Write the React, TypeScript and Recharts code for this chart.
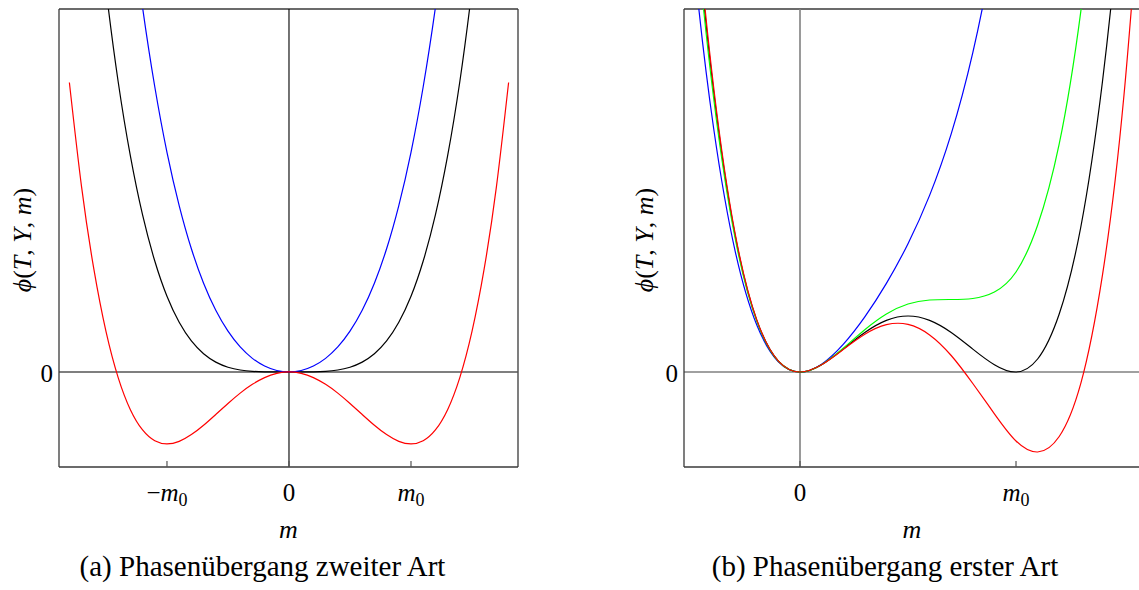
import React from 'react';
import { LineChart, Line, XAxis, YAxis, ReferenceLine } from 'recharts';

const FONT = "'Liberation Serif', 'DejaVu Serif', serif";

// ---------- (a) second-order transition ----------
const mLeft = [
  -1.8, -1.7, -1.6, -1.5, -1.4, -1.3, -1.2, -1.1, -1.0, -0.9, -0.8, -0.7, -0.6, -0.5, -0.4, -0.3, -0.2, -0.1,
  0, 0.1, 0.2, 0.3, 0.4, 0.5, 0.6, 0.7, 0.8, 0.9, 1.0, 1.1, 1.2, 1.3, 1.4, 1.5, 1.6, 1.7, 1.8,
];
const blackLeft = [
  11.02, 8.77, 6.88, 5.32, 4.03, 3.0, 2.18, 1.54, 1.05, 0.689, 0.43, 0.252, 0.136, 0.0656, 0.0269, 0.0085, 0.0017, 0.0001,
  0, 0.0001, 0.0017, 0.0085, 0.0269, 0.0656, 0.136, 0.252, 0.43, 0.689, 1.05, 1.54, 2.18, 3.0, 4.03, 5.32, 6.88, 8.77, 11.02,
];
const blueLeft = [
  17.5, 14.55, 12.0, 9.82, 7.95, 6.38, 5.06, 3.96, 3.05, 2.31, 1.71, 1.232, 0.856, 0.566, 0.347, 0.1885, 0.0817, 0.0201,
  0, 0.0201, 0.0817, 0.1885, 0.347, 0.566, 0.856, 1.232, 1.71, 2.31, 3.05, 3.96, 5.06, 6.38, 7.95, 9.82, 12.0, 14.55, 17.5,
];
const redLeft = [
  4.02, 2.57, 1.434, 0.5625, -0.0784, -0.524, -0.806, -0.956, -1.0, -0.964, -0.87, -0.74, -0.59, -0.4375, -0.294, -0.172, -0.0784, -0.0199,
  0, -0.0199, -0.0784, -0.172, -0.294, -0.4375, -0.59, -0.74, -0.87, -0.964, -1.0, -0.956, -0.806, -0.524, -0.0784, 0.5625, 1.434, 2.57, 4.02,
];
const xTicksLeft = [-1, 0, 1];
const xTickLabelsLeft = ['−m_0', '0', 'm_0'];

// ---------- (b) first-order transition ----------
const mRight = [
  -0.6, -0.5, -0.4, -0.3, -0.2, -0.1, 0, 0.1, 0.2, 0.3, 0.4, 0.5, 0.6, 0.7, 0.8, 0.9, 1.0, 1.1, 1.2, 1.3, 1.4, 1.5, 1.6,
];
const blueRight = [
  7.01, 4.317, 2.44, 1.207, 0.47, 0.1026, 0, 0.0784, 0.276, 0.551, 0.886, 1.283, 1.766, 2.381, 3.193, 4.292, 5.79, 7.81, 10.52, 14.08, 18.69, 24.57, 31.97,
];
const blackRight = [
  8.26, 5.04, 2.81, 1.363, 0.516, 0.108, 0, 0.0726, 0.229, 0.395, 0.516, 0.56, 0.516, 0.395, 0.229, 0.0726, 0, 0.13, 0.58, 1.45, 2.9, 5.1, 8.3,
];
const greenRight = [
  8.04, 4.91, 2.744, 1.335, 0.508, 0.1075, 0, 0.0735, 0.2375, 0.423, 0.58, 0.68, 0.72, 0.725, 0.735, 0.8, 1.0, 1.468, 2.281, 3.607, 5.61, 8.49, 12.44,
];
const redRight = [
  8.4, 5.124, 2.853, 1.381, 0.521, 0.109, 0, 0.0717, 0.224, 0.377, 0.473, 0.476, 0.371, 0.165, -0.115, -0.418, -0.69, -0.8, -0.645, -0.114, 0.966, 2.772, 5.505,
];
const xTicksRight = [0, 1];
const xTickLabelsRight = ['0', 'm_0'];

const yTicks = [0];
const yTickLabels = ['0'];
const yAxisLabel = ['ϕ', '(', 'T', ', ', 'Y', ', ', 'm', ')'];
const xAxisLabel = 'm';
const captionLeft = '(a) Phasenübergang zweiter Art';
const captionRight = '(b) Phasenübergang erster Art';

const leftData = mLeft.map((m, i) => ({ m, black: blackLeft[i], blue: blueLeft[i], red: redLeft[i] }));
const rightData = mRight.map((m, i) => ({
  m,
  blue: blueRight[i],
  black: blackRight[i],
  green: greenRight[i],
  red: redRight[i],
}));

const MathLabel = ({ label, x, y, anchor }: { label: string; x: number; y: number; anchor: string }) => {
  const parts = label.split('_');
  if (parts.length === 1) {
    return (
      <text x={x} y={y} textAnchor={anchor} fontFamily={FONT} fontSize={25} fill="#000">
        {label}
      </text>
    );
  }
  const main = parts[0];
  const neg = main.startsWith('−');
  return (
    <text x={x} y={y} textAnchor={anchor} fontFamily={FONT} fontSize={25} fill="#000">
      {neg ? <tspan>−</tspan> : null}
      <tspan fontStyle="italic">{neg ? main.slice(1) : main}</tspan>
      <tspan fontSize={18} dy={5}>{parts[1]}</tspan>
    </text>
  );
};

const makeXTick = (ticks: number[], labels: string[]) => (props: any) => {
  const { x, y, payload } = props;
  const idx = ticks.indexOf(payload.value);
  const label = idx >= 0 ? labels[idx] : String(payload.value);
  return (
    <g>
      <line x1={x} x2={x} y1={y} y2={y - 6} stroke="#555" strokeWidth={1.2} />
      <MathLabel label={label} x={x} y={y + 34} anchor="middle" />
    </g>
  );
};

const makeYTick = (ticks: number[], labels: string[]) => (props: any) => {
  const { x, y, payload } = props;
  const idx = ticks.indexOf(payload.value);
  const label = idx >= 0 ? labels[idx] : String(payload.value);
  return (
    <g>
      <text x={x - 6} y={y + 10} textAnchor="end" fontFamily={FONT} fontSize={25} fill="#000">
        {label}
      </text>
    </g>
  );
};

const makeXLabel = () => (props: any) => {
  const vb = props.viewBox || {};
  const cx = vb.x + vb.width / 2;
  return (
    <text x={cx} y={vb.y + 71} textAnchor="middle" fontFamily={FONT} fontSize={26} fontStyle="italic" fill="#000">
      {xAxisLabel}
    </text>
  );
};

const makeYLabel = (offset: number) => (props: any) => {
  const vb = props.viewBox || {};
  const cx = vb.x + vb.width - offset;
  const cy = vb.y + vb.height / 2 + 2;
  return (
    <text
      x={cx}
      y={cy}
      textAnchor="middle"
      transform={`rotate(-90, ${cx}, ${cy})`}
      fontFamily={FONT}
      fontSize={26}
      fill="#000"
    >
      {yAxisLabel.map((p, i) => (
        <tspan key={i} fontStyle={p === 'T' || p === 'Y' || p === 'm' || p === 'ϕ' ? 'italic' : 'normal'}>
          {p}
        </tspan>
      ))}
    </text>
  );
};

const FRAME = '#3a3a3a';

const captionStyle: React.CSSProperties = {
  position: 'absolute',
  top: 552,
  textAlign: 'center',
  fontFamily: FONT,
  fontSize: 29,
  lineHeight: '29px',
  whiteSpace: 'nowrap',
  color: '#000',
};

function App() {
  return (
    <div style={{ position: 'absolute', left: 0, top: 0, width: 1139, height: 590, background: '#fff', overflow: 'hidden' }}>
      {/* Left panel */}
      <div style={{ position: 'absolute', left: 0, top: 0 }}>
        <LineChart width={560} height={590} data={leftData} margin={{ top: 9, right: 42, bottom: 0, left: 0 }}>
          <XAxis
            dataKey="m"
            type="number"
            domain={[-1.885, 1.877]}
            allowDataOverflow
            ticks={xTicksLeft}
            tick={makeXTick(xTicksLeft, xTickLabelsLeft)}
            tickLine={false}
            tickSize={0}
            tickMargin={0}
            height={123}
            axisLine={{ stroke: FRAME, strokeWidth: 1.3 }}
            label={makeXLabel()}
          />
          <YAxis
            type="number"
            domain={[-1.32, 5.04]}
            allowDataOverflow
            ticks={yTicks}
            tick={makeYTick(yTicks, yTickLabels)}
            tickLine={false}
            tickSize={0}
            tickMargin={0}
            width={59}
            axisLine={{ stroke: FRAME, strokeWidth: 1.3 }}
            label={makeYLabel(28)}
          />
          <ReferenceLine y={5.04} stroke={FRAME} strokeWidth={1.3} />
          <ReferenceLine x={1.877} stroke={FRAME} strokeWidth={1.3} />
          <ReferenceLine y={0} stroke="#555" strokeWidth={1.4} />
          <ReferenceLine x={0} stroke="#000" strokeWidth={1.1} />
          <Line type="natural" dataKey="black" stroke="#000000" strokeWidth={1.2} dot={false} isAnimationActive={false} />
          <Line type="natural" dataKey="blue" stroke="#0000ff" strokeWidth={1.2} dot={false} isAnimationActive={false} />
          <Line type="natural" dataKey="red" stroke="#ff0000" strokeWidth={1.2} dot={false} isAnimationActive={false} />
        </LineChart>
      </div>
      <div style={{ ...captionStyle, left: 0, width: 525 }}>{captionLeft}</div>

      {/* Right panel */}
      <div style={{ position: 'absolute', left: 580, top: 0 }}>
        <LineChart width={560} height={590} data={rightData} margin={{ top: 9, right: 0, bottom: 0, left: 0 }}>
          <XAxis
            dataKey="m"
            type="number"
            domain={[-0.537, 1.574]}
            allowDataOverflow
            ticks={xTicksRight}
            tick={makeXTick(xTicksRight, xTickLabelsRight)}
            tickLine={false}
            tickSize={0}
            tickMargin={0}
            height={123}
            axisLine={{ stroke: FRAME, strokeWidth: 1.3 }}
            label={makeXLabel()}
          />
          <YAxis
            type="number"
            domain={[-0.95, 3.63]}
            allowDataOverflow
            ticks={yTicks}
            tick={makeYTick(yTicks, yTickLabels)}
            tickLine={false}
            tickSize={0}
            tickMargin={0}
            width={104}
            axisLine={{ stroke: FRAME, strokeWidth: 1.3 }}
            label={makeYLabel(31)}
          />
          <ReferenceLine y={3.63} stroke={FRAME} strokeWidth={1.3} />
          <ReferenceLine y={0} stroke="#808080" strokeWidth={1.6} />
          <ReferenceLine x={0} stroke="#808080" strokeWidth={1.6} />
          <Line type="natural" dataKey="blue" stroke="#0000ff" strokeWidth={1.2} dot={false} isAnimationActive={false} />
          <Line type="natural" dataKey="black" stroke="#000000" strokeWidth={1.2} dot={false} isAnimationActive={false} />
          <Line type="natural" dataKey="green" stroke="#00ff00" strokeWidth={1.2} dot={false} isAnimationActive={false} />
          <Line type="natural" dataKey="red" stroke="#ff0000" strokeWidth={1.2} dot={false} isAnimationActive={false} />
        </LineChart>
      </div>
      <div style={{ ...captionStyle, left: 630, width: 510 }}>{captionRight}</div>
    </div>
  );
}

export default App;
